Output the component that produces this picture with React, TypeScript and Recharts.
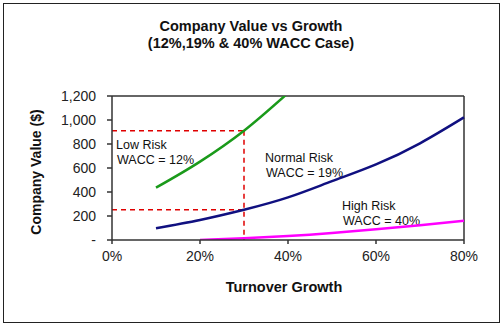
import React from 'react'
import { LineChart, Line, XAxis, YAxis, ReferenceLine } from 'recharts'

const growth = [0.1, 0.2, 0.3, 0.4, 0.5, 0.6, 0.7, 0.8]
const lowRisk = [436, 653, 911, 1225, null, null, null, null]
const normalRisk = [98, 167, 252, 355, 490, 630, 806, 1022]
const highRisk = [null, 0, 15, 33, 58, 89, 123, 161]
const xTicks = [0, 0.2, 0.4, 0.6, 0.8]
const yTicks = [0, 200, 400, 600, 800, 1000, 1200]
const markGrowth = 0.3

const data = growth.map((g, i) => ({
  g,
  low: lowRisk[i],
  normal: normalRisk[i],
  high: highRisk[i],
}))

const markIdx = growth.indexOf(markGrowth)
const lowMark = lowRisk[markIdx] as number
const normalMark = normalRisk[markIdx]

const arial = 'Liberation Sans, Arial, sans-serif'
const tickFont = { fontFamily: arial, fontSize: 14, fill: '#222' }
const noteFont = { fontFamily: arial, fontSize: 12.5, fill: '#111' }
const boldText = { fontFamily: arial, fontSize: 14.5, fontWeight: 'bold' as const }
const dash = '5 4'

// two-line annotation
const Note = ({ x, y, lines }: { x: number; y: number; lines: string[] }) => (
  <text x={x} y={y} style={noteFont}>
    {lines.map((l, i) => (
      <tspan key={i} x={x + i} dy={i === 0 ? 0 : 14.5}>{l}</tspan>
    ))}
  </text>
)

const App: React.FC = () => {
  return (
    <div style={{ position: 'absolute', left: 0, top: 0, width: 503, height: 327, background: '#fff' }}>
      <div style={{ position: 'absolute', left: 3, top: 3, width: 495, height: 318, border: '1.5px solid #222' }} />
      <LineChart width={503} height={327} data={data} margin={{ top: 96, right: 39, bottom: 57, left: 50 }}>
        <XAxis
          dataKey="g"
          type="number"
          domain={[0, 0.8]}
          ticks={xTicks}
          tickFormatter={(v: number) => `${Math.round(v * 100)}%`}
          tick={tickFont}
          tickSize={4}
          tickMargin={7}
          height={30}
          stroke="#333"
          strokeWidth={1.5}
        />
        <YAxis
          type="number"
          domain={[0, 1200]}
          ticks={yTicks}
          allowDataOverflow
          tickFormatter={(v: number) => (v === 0 ? '-' : v.toLocaleString('en-US'))}
          tick={tickFont}
          tickSize={5}
          tickMargin={11}
          width={62}
          stroke="#333"
          strokeWidth={1.5}
        />
        <ReferenceLine y={1200} stroke="#333" strokeWidth={1.5} />
        <ReferenceLine x={0.8} stroke="#333" strokeWidth={1.5} />
        <ReferenceLine segment={[{ x: 0, y: lowMark }, { x: markGrowth, y: lowMark }]} stroke="#e00000" strokeWidth={1.5} strokeDasharray={dash} />
        <ReferenceLine segment={[{ x: 0, y: normalMark }, { x: markGrowth, y: normalMark }]} stroke="#e00000" strokeWidth={1.5} strokeDasharray={dash} />
        <ReferenceLine segment={[{ x: markGrowth, y: lowMark }, { x: markGrowth, y: 0 }]} stroke="#e00000" strokeWidth={1.5} strokeDasharray={dash} />
        <Line type="monotone" dataKey="low" stroke="#1a9a1a" strokeWidth={2.5} dot={false} isAnimationActive={false} />
        <Line type="natural" dataKey="normal" stroke="#101080" strokeWidth={2.5} dot={false} isAnimationActive={false} />
        <Line type="natural" dataKey="high" stroke="#ff00ff" strokeWidth={2.5} dot={false} isAnimationActive={false} />
        <text x={251} y={31} textAnchor="middle" style={boldText} fill="#111">Company Value vs Growth</text>
        <text x={251} y={48} textAnchor="middle" style={boldText} fill="#111">(12%,19% &amp; 40% WACC Case)</text>
        <text x={284} y={292} textAnchor="middle" style={boldText} fill="#111">Turnover Growth</text>
        <text x={41} y={172} textAnchor="middle" transform="rotate(-90 41 172)" style={{ ...boldText, fontSize: 14 }} fill="#111">Company Value ($)</text>
        <Note x={116} y={149} lines={['Low Risk', 'WACC = 12%']} />
        <Note x={265} y={162} lines={['Normal Risk', 'WACC = 19%']} />
        <Note x={342} y={210} lines={['High Risk', 'WACC = 40%']} />
      </LineChart>
    </div>
  )
}

export default App
